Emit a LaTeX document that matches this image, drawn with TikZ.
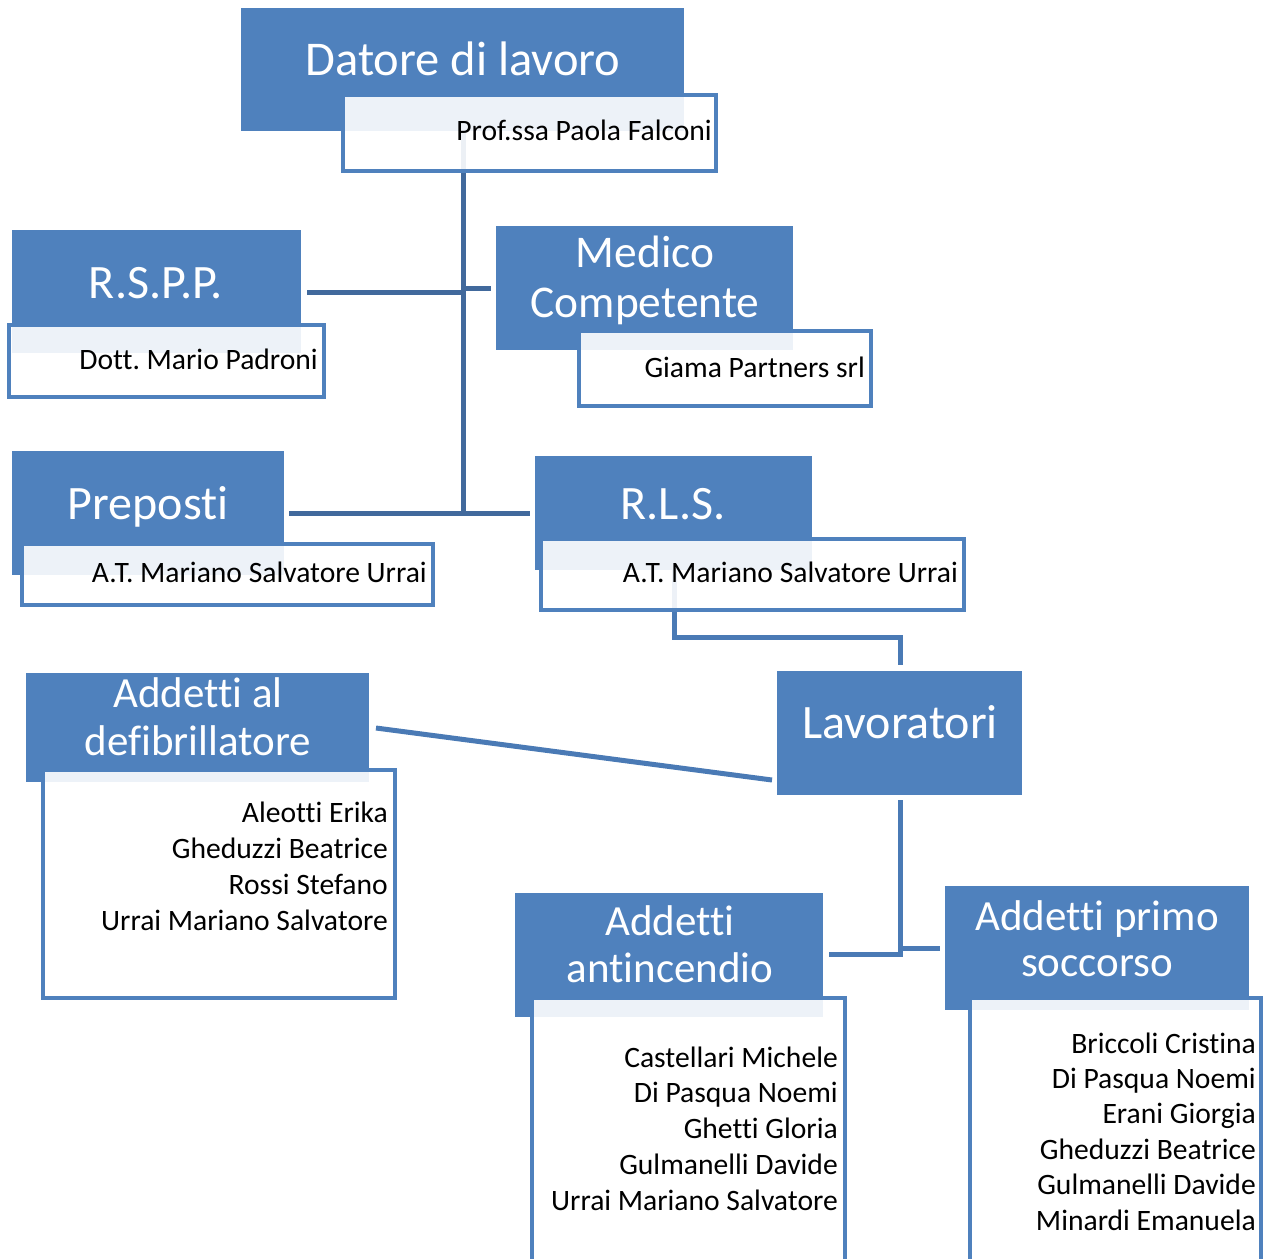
\documentclass[tikz,border=0pt]{standalone}
\usepackage{fontspec}
\setmainfont{Carlito}[Ligatures=NoCommon]
\frenchspacing
\definecolor{hblue}{HTML}{4F81BD}
\definecolor{cdark}{HTML}{41699C}
\definecolor{clight}{HTML}{4A7AB5}
\tikzset{
  hdr/.style={fill=hblue, draw=none, anchor=north west, inner sep=0pt, outer sep=0pt},
  subbox/.style={fill=white, fill opacity=0.9, draw=hblue, draw opacity=1, line width=3.5pt, anchor=north west, inner sep=0pt, outer sep=0pt},
  conn/.style={draw=cdark, line width=5pt},
  connl/.style={draw=clight, line width=5pt},
  bigtxt/.style={text=white, inner sep=0pt, anchor=base, font=\fontsize{48}{52}\selectfont},
  midtxt/.style={text=white, inner sep=0pt, anchor=base, font=\fontsize{43}{46}\selectfont},
  smalltxt/.style={text=black, inner sep=0pt, anchor=base east, font=\fontsize{29.6}{36}\selectfont},
}
\begin{document}
\begin{tikzpicture}[x=1pt,y=-1pt]
\useasboundingbox[fill=white] (0,0) rectangle (1265,1258);

% connectors (drawn first, under boxes)
\coordinate (trunkTop) at (463,100);
\coordinate (trunkBot) at (463,513);
\coordinate (jR) at (463,292);
\coordinate (jM) at (463,288);
\draw[conn] (trunkTop) -- (trunkBot);
\coordinate (rsppE) at (307,292);
\coordinate (medW) at (491,288);
\draw[conn] (rsppE) -- (jR);
\draw[conn] (jM) -- (medW);
\coordinate (prepE) at (289,513);
\coordinate (rlsW) at (530,513);
\draw[conn] (prepE) -- (rlsW);
\coordinate (rlsS) at (674,570);
\coordinate (lavN) at (900,665);
\draw[connl] (rlsS) -- (674,637) -| (lavN);
\coordinate (lavW) at (772,780);
\coordinate (defE) at (376,728);
\draw[connl] (lavW) -- (defE);
\coordinate (lavS) at (900,800);
\coordinate (jL) at (900,954);
\coordinate (antE) at (829,954);
\coordinate (psW) at (940,948);
\draw[connl] (lavS) -- (jL) -- (antE);
\draw[connl] (900,948) -- (psW);

% header boxes
\node[hdr, minimum width=443pt, minimum height=123pt] (datH) at (241,8) {};
\node[hdr, minimum width=289pt, minimum height=123pt] (rsppH) at (12,230) {};
\node[hdr, minimum width=297pt, minimum height=124pt] (medH) at (496,226) {};
\node[hdr, minimum width=272pt, minimum height=124pt] (prepH) at (12,451) {};
\node[hdr, minimum width=277pt, minimum height=114pt] (rlsH) at (535,456) {};
\node[hdr, minimum width=245pt, minimum height=124pt] (lavH) at (777,671) {};
\node[hdr, minimum width=343pt, minimum height=109pt] (defH) at (26,673) {};
\node[hdr, minimum width=308pt, minimum height=124pt] (antH) at (515,893) {};
\node[hdr, minimum width=304pt, minimum height=124pt] (psH) at (945,886) {};

% sub boxes
\node[subbox, minimum width=373pt, minimum height=76pt] (datS) at (343,95) {};
\node[subbox, minimum width=315pt, minimum height=72pt] (rsppS) at (9,325) {};
\node[subbox, minimum width=292pt, minimum height=75pt] (medS) at (579,331) {};
\node[subbox, minimum width=411pt, minimum height=61pt] (prepS) at (22,544) {};
\node[subbox, minimum width=423pt, minimum height=71pt] (rlsS2) at (541,539) {};
\node[subbox, minimum width=352pt, minimum height=228pt] (defS) at (43,770) {};
\node[subbox, minimum width=313pt, minimum height=290pt] (antS) at (532,998) {};
\node[subbox, minimum width=291pt, minimum height=290pt] (psS) at (970,998) {};

% header texts
\node[bigtxt, font=\fontsize{48.5}{52}\selectfont] (tDat) at (463,75) {Datore di lavoro};
\node[bigtxt] (tRspp) at (156,298) {R.S.P.P.};
\node[bigtxt, font=\fontsize{45.4}{50}\selectfont] (tMed1) at (645,267) {Medico};
\node[bigtxt, font=\fontsize{45.4}{50}\selectfont] (tMed2) at (645,317) {Competente};
\node[bigtxt] (tPrep) at (148,519) {Preposti};
\node[bigtxt] (tRls) at (673,519) {R.L.S.};
\node[bigtxt] (tLav) at (900,738) {Lavoratori};
\node[midtxt] (tDef1) at (198,707) {Addetti al};
\node[midtxt] (tDef2) at (198,755) {defibrillatore};
\node[midtxt] (tAnt1) at (670,935) {Addetti};
\node[midtxt] (tAnt2) at (670,982) {antincendio};
\node[midtxt] (tPs1) at (1097,930) {Addetti primo};
\node[midtxt] (tPs2) at (1097,976) {soccorso};

% sub texts
\node[smalltxt] (sDat) at (712,140) {Prof.ssa Paola Falconi};
\node[smalltxt] (sRspp) at (318,369) {Dott. Mario Padroni};
\node[smalltxt] (sMed) at (865,377) {Giama Partners srl};
\node[smalltxt] (sPrep) at (427,582) {A.T. Mariano Salvatore Urrai};
\node[smalltxt] (sRls) at (958,582) {A.T. Mariano Salvatore Urrai};

\foreach \t [count=\i from 0] in {Aleotti Erika, Gheduzzi Beatrice, Rossi Stefano, Urrai Mariano Salvatore}
  \node[smalltxt] (def\i) at (388,822+36*\i) {\t};
\foreach \t [count=\i from 0] in {Castellari Michele, Di Pasqua Noemi, Ghetti Gloria, Gulmanelli Davide, Urrai Mariano Salvatore}
  \node[smalltxt] (ant\i) at (838,1067+35.8*\i) {\t};
\foreach \t [count=\i from 0] in {Briccoli Cristina, Di Pasqua Noemi, Erani Giorgia, Gheduzzi Beatrice, Gulmanelli Davide, Minardi Emanuela}
  \node[smalltxt] (ps\i) at (1256,1053+35.4*\i) {\t};
\end{tikzpicture}
\end{document}
